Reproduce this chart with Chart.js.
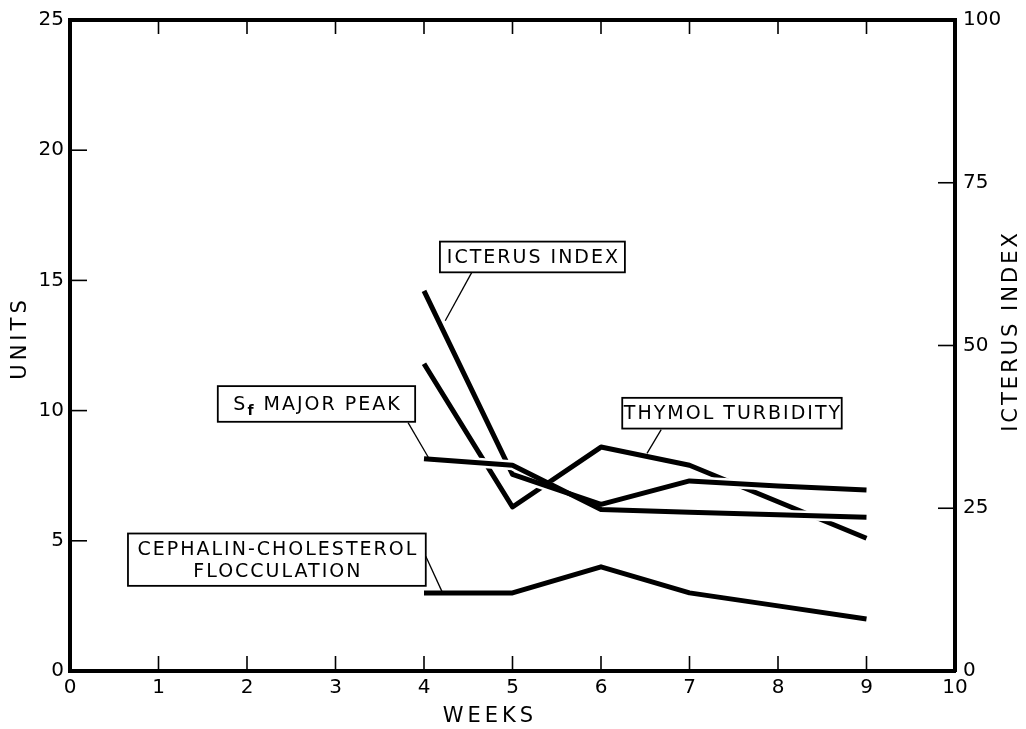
<!DOCTYPE html>
<html>
<head>
<meta charset="utf-8">
<script src="https://cdn.jsdelivr.net/npm/chart.js@4.4.1/dist/chart.umd.min.js"></script>
<style>
  html, body { margin: 0; padding: 0; background: #ffffff; }
  canvas { display: block; }
</style>
</head>
<body>
<canvas id="chart" width="1026" height="729"></canvas>
<script>
// Weekly liver-function measurements
const weeks = [4, 5, 6, 7, 8, 9];
const icterusIndex = [58.4, 30.2, 25.6, 29.2, 28.4, 27.8];        // right axis (index)
const sfMajorPeak = [8.15, 7.9, 6.2, 6.1, 6.0, 5.9];              // units
const thymolTurbidity = [11.8, 6.3, 8.6, 7.9, 6.5, 5.1];          // units
const cephalinCholesterol = [3.0, 3.0, 4.0, 3.0, 2.5, 2.0];       // units

const weekTicks = [0, 1, 2, 3, 4, 5, 6, 7, 8, 9, 10];
const unitTicks = [0, 5, 10, 15, 20, 25];
const icterusTicks = [0, 25, 50, 75, 100];

const FONT = "'DejaVu Sans', 'Liberation Sans', sans-serif";

const toPoints = (ys) => weeks.map((w, i) => ({ x: w, y: ys[i] }));

function lineDataset(label, ys, axis, casing) {
  return {
    label,
    data: toPoints(ys),
    yAxisID: axis,
    borderColor: '#000000',
    borderWidth: 5,
    borderCapStyle: 'butt',
    borderJoinStyle: 'round',
    pointRadius: 0,
    tension: 0,
    fill: false,
    casing
  };
}

// A white casing under a curve (over chosen week ranges) so that it
// visibly breaks the curves drawn beneath it where they cross
const lineCasing = {
  id: 'lineCasing',
  beforeDatasetDraw(chart, args) {
    const ds = chart.data.datasets[args.index];
    const c = ds.casing;
    if (!c) return;
    const pts = args.meta.data;
    const { ctx, chartArea: a, scales } = chart;
    c.ranges.forEach(([w0, w1]) => {
      const x0 = scales.x.getPixelForValue(w0);
      const x1 = scales.x.getPixelForValue(w1);
      ctx.save();
      ctx.beginPath();
      ctx.rect(Math.max(a.left, x0), a.top, Math.min(a.right, x1) - Math.max(a.left, x0), a.bottom - a.top);
      ctx.clip();
      ctx.strokeStyle = '#ffffff';
      ctx.lineWidth = c.width;
      ctx.lineCap = 'butt';
      ctx.lineJoin = 'round';
      ctx.beginPath();
      pts.forEach((p, i) => (i ? ctx.lineTo(p.x, p.y) : ctx.moveTo(p.x, p.y)));
      ctx.stroke();
      ctx.restore();
    });
  }
};

// Inward tick marks on all four sides of the frame
const frameTicks = {
  id: 'frameTicks',
  afterDraw(chart) {
    const { ctx, chartArea: a, scales } = chart;
    ctx.save();
    ctx.strokeStyle = '#000';
    ctx.lineWidth = 1.6;
    const seg = (x1, y1, x2, y2) => { ctx.beginPath(); ctx.moveTo(x1, y1); ctx.lineTo(x2, y2); ctx.stroke(); };
    scales.x.ticks.forEach(t => {
      if (t.value <= 0 || t.value >= 10) return;
      const px = scales.x.getPixelForValue(t.value);
      seg(px, a.bottom, px, a.bottom - 15);
      seg(px, a.top, px, a.top + 14);
    });
    scales.y.ticks.forEach(t => {
      if (t.value <= 0 || t.value >= 25) return;
      const py = scales.y.getPixelForValue(t.value);
      seg(a.left, py, a.left + 17, py);
    });
    scales.y2.ticks.forEach(t => {
      if (t.value <= 0 || t.value >= 100) return;
      const py = scales.y2.getPixelForValue(t.value);
      seg(a.right, py, a.right - 17, py);
    });
    ctx.restore();
  }
};

// Axis titles (both vertical titles read bottom-to-top)
const axisTitles = {
  id: 'axisTitles',
  afterDraw(chart) {
    const { ctx } = chart;
    ctx.save();
    ctx.fillStyle = '#000';
    ctx.font = `21px ${FONT}`;
    ctx.letterSpacing = '4px';
    ctx.textAlign = 'center';
    ctx.textBaseline = 'middle';
    ctx.fillText('WEEKS', 490, 717);
    ctx.save();
    ctx.translate(21, 340);
    ctx.rotate(-Math.PI / 2);
    ctx.fillText('UNITS', 2, 0);
    ctx.restore();
    ctx.save();
    ctx.translate(1012, 333);
    ctx.rotate(-Math.PI / 2);
    ctx.letterSpacing = '3px';
    ctx.fillText('ICTERUS INDEX', 2, 0);
    ctx.restore();
    ctx.restore();
  }
};

// Boxed labels with leader lines, placed in data coordinates
const callouts = {
  id: 'callouts',
  afterDatasetsDraw(chart, args, opts) {
    const { ctx, scales } = chart;
    const X = v => scales.x.getPixelForValue(v);
    const Y = v => scales.y.getPixelForValue(v);
    ctx.save();
    opts.items.forEach(item => {
      const x1 = X(item.box[0]), y1 = Y(item.box[1]);
      const x2 = X(item.box[2]), y2 = Y(item.box[3]);
      ctx.fillStyle = '#fff';
      ctx.fillRect(x1, y1, x2 - x1, y2 - y1);
      ctx.strokeStyle = '#000';
      ctx.lineWidth = 1.8;
      ctx.strokeRect(x1, y1, x2 - x1, y2 - y1);
      ctx.lineWidth = 1.3;
      ctx.beginPath();
      ctx.moveTo(X(item.leader[0]), Y(item.leader[1]));
      ctx.lineTo(X(item.leader[2]), Y(item.leader[3]));
      ctx.stroke();

      ctx.fillStyle = '#000';
      ctx.textBaseline = 'middle';
      ctx.letterSpacing = '2px';
      const cx = (x1 + x2) / 2 + 1;
      const n = item.lines.length;
      const lh = 22;
      item.lines.forEach((ln, i) => {
        const cy = (y1 + y2) / 2 + (i - (n - 1) / 2) * lh + 1;
        if (Array.isArray(ln)) {
          // rich line: [main, subscript, rest]
          ctx.font = `19px ${FONT}`;
          const w0 = ctx.measureText(ln[0]).width;
          const w2 = ctx.measureText(ln[2]).width;
          ctx.font = `bold 14px ${FONT}`;
          const w1 = ctx.measureText(ln[1]).width;
          let x = cx - (w0 + w1 + w2) / 2;
          ctx.textAlign = 'left';
          ctx.font = `19px ${FONT}`;
          ctx.fillText(ln[0], x, cy); x += w0;
          ctx.font = `bold 14px ${FONT}`;
          ctx.fillText(ln[1], x, cy + 6); x += w1;
          ctx.font = `19px ${FONT}`;
          ctx.fillText(ln[2], x, cy);
        } else {
          ctx.font = `19px ${FONT}`;
          ctx.textAlign = 'center';
          ctx.fillText(ln, cx, cy);
        }
      });
    });
    ctx.restore();
  }
};

const fixedTicks = (list) => (scale) => { scale.ticks = list.map(v => ({ value: v })); };
const TICK_FONT = { family: FONT, size: 20 };

new Chart(document.getElementById('chart'), {
  type: 'line',
  data: {
    // earlier datasets are painted on top of later ones
    datasets: [
      lineDataset('Sf major peak', sfMajorPeak, 'y', { width: 10, ranges: [[4, 5.02], [7.6, 9.2]] }),
      lineDataset('Icterus index', icterusIndex, 'y2', { width: 10, ranges: [[4, 9.2]] }),
      lineDataset('Thymol turbidity', thymolTurbidity, 'y'),
      lineDataset('Cephalin-cholesterol flocculation', cephalinCholesterol, 'y')
    ]
  },
  options: {
    responsive: false,
    devicePixelRatio: 1,
    animation: false,
    events: [],
    layout: { padding: 0 },
    plugins: {
      legend: { display: false },
      tooltip: { enabled: false },
      callouts: {
        items: [
          { lines: ['ICTERUS INDEX'], box: [4.18, 16.49, 6.27, 15.31], leader: [4.54, 15.31, 4.24, 13.45] },
          { lines: [['S', 'f', ' MAJOR PEAK']], box: [1.67, 10.94, 3.90, 9.57], leader: [3.82, 9.54, 4.05, 8.2] },
          { lines: ['THYMOL TURBIDITY'], box: [6.24, 10.49, 8.72, 9.31], leader: [6.68, 9.27, 6.52, 8.36] },
          { lines: ['CEPHALIN-CHOLESTEROL', 'FLOCCULATION'], box: [0.655, 5.28, 4.02, 3.27], leader: [4.02, 4.41, 4.21, 3.0] }
        ]
      }
    },
    scales: {
      x: {
        type: 'linear', position: 'bottom', min: 0, max: 10,
        afterBuildTicks: fixedTicks(weekTicks),
        afterFit: s => { s.height = 58; },
        grid: { display: false, drawTicks: false },
        border: { display: true, color: '#000', width: 4 },
        ticks: { color: '#000', font: TICK_FONT, padding: 5, maxRotation: 0, autoSkip: false }
      },
      xTop: {
        type: 'linear', position: 'top', min: 0, max: 10,
        afterFit: s => { s.height = 13; },
        grid: { display: false, drawTicks: false },
        border: { display: true, color: '#000', width: 4 },
        ticks: { display: false }
      },
      y: {
        type: 'linear', position: 'left', min: 0, max: 25,
        afterBuildTicks: fixedTicks(unitTicks),
        afterFit: s => { s.width = 70; },
        grid: { display: false, drawTicks: false },
        border: { display: true, color: '#000', width: 4 },
        ticks: { color: '#000', font: TICK_FONT, padding: 6 }
      },
      y2: {
        type: 'linear', position: 'right', min: 0, max: 100,
        afterBuildTicks: fixedTicks(icterusTicks),
        afterFit: s => { s.width = 71; },
        grid: { display: false, drawTicks: false },
        border: { display: true, color: '#000', width: 4 },
        ticks: { color: '#000', font: TICK_FONT, padding: 8 }
      }
    }
  },
  plugins: [lineCasing, frameTicks, axisTitles, callouts]
});
</script>
</body>
</html>
